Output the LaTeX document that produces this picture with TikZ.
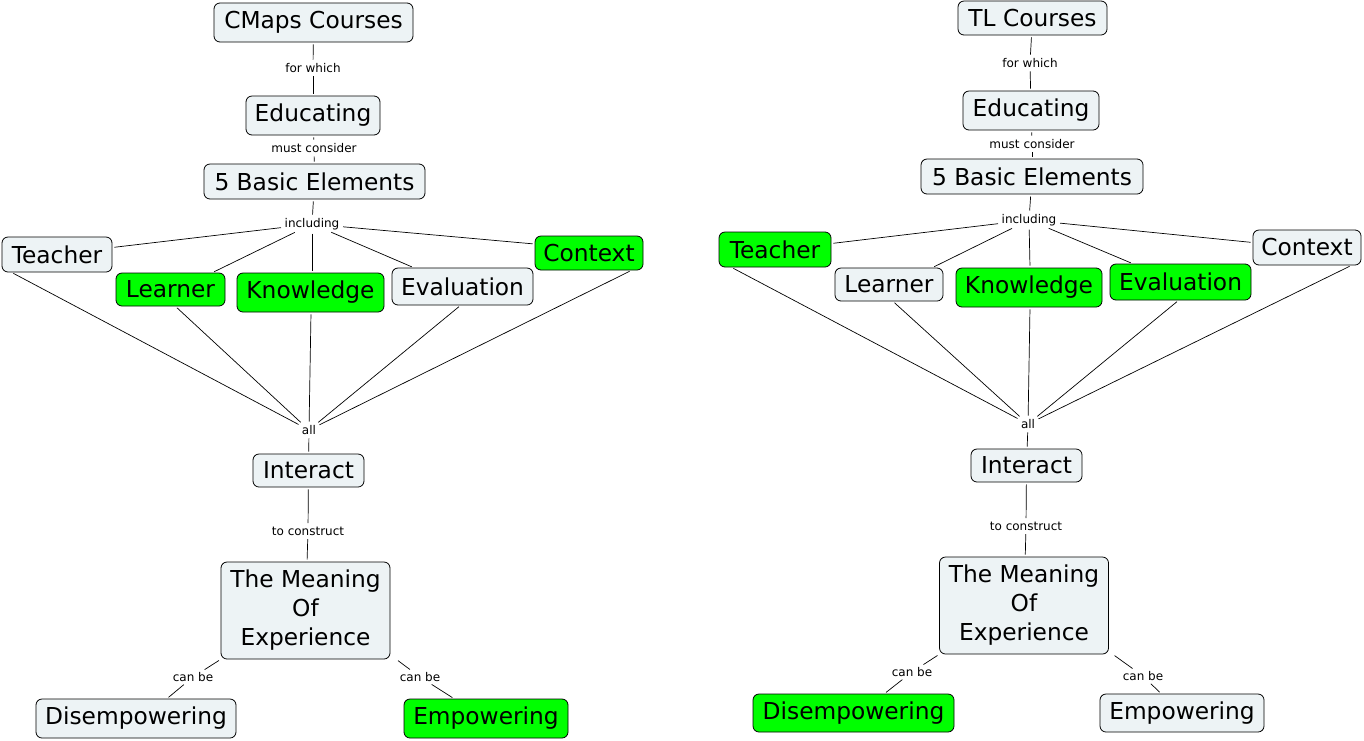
\documentclass[tikz,border=0pt]{standalone}
\usepackage{fontspec}
\setmainfont{DejaVu Sans}
\definecolor{lightfill}{RGB}{237,243,245}
\definecolor{cgreen}{RGB}{0,255,0}
\begin{document}
\begin{tikzpicture}[x=1pt,y=-1pt,
  concept/.style={draw=black, line width=0.8pt, rounded corners=6pt, inner sep=0pt,
    font=\fontsize{23.3}{29}\selectfont, align=center},
  lightc/.style={concept, fill=lightfill},
  greenc/.style={concept, fill=cgreen},
  lab/.style={font=\fontsize{12}{13}\selectfont, inner sep=1.5pt},
  link/.style={line width=0.7pt, shorten <=2pt, shorten >=2pt}]
\useasboundingbox (0,0) rectangle (1364,740);
% ---------- left map ----------
\node[lightc, minimum width=199, minimum height=39] (cc1) at (313.5,22.5) {CMaps Courses};
\node[lab] (fw1) at (313,68) {for which};
\node[lightc, minimum width=134, minimum height=39] (ed1) at (313,115.5) {Educating};
\node[lab] (mc1) at (314,148) {must consider};
\node[lightc, minimum width=221, minimum height=35] (be1) at (314.5,181.5) {5 Basic Elements};
\node[lab] (in1) at (312,224) {including};
\node[lightc, minimum width=110, minimum height=35] (te1) at (57,254.5) {Teacher};
\node[greenc, minimum width=109, minimum height=33] (le1) at (170.5,289.5) {Learner};
\node[greenc, minimum width=147, minimum height=39] (kn1) at (310.5,292.5) {Knowledge};
\node[lightc, minimum width=141, minimum height=37] (ev1) at (462.5,286.5) {Evaluation};
\node[greenc, minimum width=108, minimum height=34] (co1) at (589,253) {Context};
\node[lab] (al1) at (309,430) {all};
\node[lightc, minimum width=111, minimum height=33] (ia1) at (308.5,470.5) {Interact};
\node[lab] (tc1) at (308,531) {to construct};
\node[lightc, minimum width=169, minimum height=97] (me1) at (305.5,610.5) {The Meaning\\Of\\Experience};
\node[lab] (cbl1) at (193,677) {can be};
\node[lab] (cbr1) at (420,677) {can be};
\node[lightc, minimum width=200, minimum height=39] (di1) at (136,718.5) {Disempowering};
\node[greenc, minimum width=164, minimum height=39] (em1) at (486,718.5) {Empowering};

\draw[link] (cc1) -- (fw1);
\draw[link] (fw1) -- (ed1);
\draw[link] (ed1) -- (mc1);
\draw[link] (mc1) -- (be1);
\draw[link] (be1) -- (in1);
\draw[link] (in1) -- ([yshift=7pt]te1.east);
\draw[link] (in1) -- ([xshift=-13pt]le1.north east);
\draw[link] (in1) -- ([xshift=1.5pt]kn1.north);
\draw[link] (in1) -- ([xshift=22pt]ev1.north west);
\draw[link] (in1) -- ([yshift=9pt]co1.west);
\draw[link] ([xshift=10pt]te1.south west) -- (al1);
\draw[link] ([xshift=5pt]le1.south) -- (al1);
\draw[link] ([xshift=0.5pt]kn1.south) -- (al1);
\draw[link] ([xshift=-2pt]ev1.south) -- (al1);
\draw[link] ([xshift=-12pt]co1.south east) -- (al1);
\draw[link] (al1) -- (ia1);
\draw[link] (ia1) -- (tc1);
\draw[link] (tc1) -- (me1);
\draw[link] (me1.south west) -- (cbl1);
\draw[link] (cbl1) -- ([xshift=31pt]di1.north);
\draw[link] ([xshift=6pt]me1.south east) -- (cbr1);
\draw[link] (cbr1) -- ([xshift=-32pt]em1.north);

% ---------- right map ----------
\node[lightc, minimum width=149, minimum height=34] (cc2) at (1032.5,18) {TL Courses};
\node[lab] (fw2) at (1030,63) {for which};
\node[lightc, minimum width=136, minimum height=39] (ed2) at (1031,110.5) {Educating};
\node[lab] (mc2) at (1032,144) {must consider};
\node[lightc, minimum width=222, minimum height=35] (be2) at (1032,176.5) {5 Basic Elements};
\node[lab] (in2) at (1029,220) {including};
\node[greenc, minimum width=112, minimum height=35] (te2) at (775,249.5) {Teacher};
\node[lightc, minimum width=108, minimum height=33] (le2) at (889,284.5) {Learner};
\node[greenc, minimum width=146, minimum height=39] (kn2) at (1029,287.5) {Knowledge};
\node[greenc, minimum width=141, minimum height=36] (ev2) at (1180.5,282) {Evaluation};
\node[lightc, minimum width=108, minimum height=35] (co2) at (1307,247.5) {Context};
\node[lab] (al2) at (1028,424) {all};
\node[lightc, minimum width=111, minimum height=33] (ia2) at (1026.5,465.5) {Interact};
\node[lab] (tc2) at (1026,526) {to construct};
\node[lightc, minimum width=169, minimum height=97] (me2) at (1024,605.5) {The Meaning\\Of\\Experience};
\node[lab] (cbl2) at (912,672) {can be};
\node[lab] (cbr2) at (1143,676) {can be};
\node[greenc, minimum width=201, minimum height=38] (di2) at (853.5,713) {Disempowering};
\node[lightc, minimum width=164, minimum height=38] (em2) at (1182,713) {Empowering};

\draw[link] (cc2) -- (fw2);
\draw[link] (fw2) -- (ed2);
\draw[link] (ed2) -- (mc2);
\draw[link] (mc2) -- (be2);
\draw[link] (be2) -- (in2);
\draw[link] (in2) -- ([yshift=6pt]te2.east);
\draw[link] (in2) -- ([xshift=-11pt]le2.north east);
\draw[link] (in2) -- ([xshift=1pt]kn2.north);
\draw[link] (in2) -- ([xshift=23pt]ev2.north west);
\draw[link] (in2) -- ([yshift=5pt]co2.west);
\draw[link] ([xshift=13pt]te2.south west) -- (al2);
\draw[link] ([xshift=4pt]le2.south) -- (al2);
\draw[link] ([xshift=1pt]kn2.south) -- (al2);
\draw[link] ([xshift=-2pt]ev2.south) -- (al2);
\draw[link] ([xshift=-10pt]co2.south east) -- (al2);
\draw[link] (al2) -- (ia2);
\draw[link] (ia2) -- (tc2);
\draw[link] (tc2) -- (me2);
\draw[link] (me2.south west) -- (cbl2);
\draw[link] (cbl2) -- ([xshift=31pt]di2.north);
\draw[link] ([xshift=4pt]me2.south east) -- (cbr2);
\draw[link] (cbr2) -- ([xshift=-21pt]em2.north);
\end{tikzpicture}
\end{document}
